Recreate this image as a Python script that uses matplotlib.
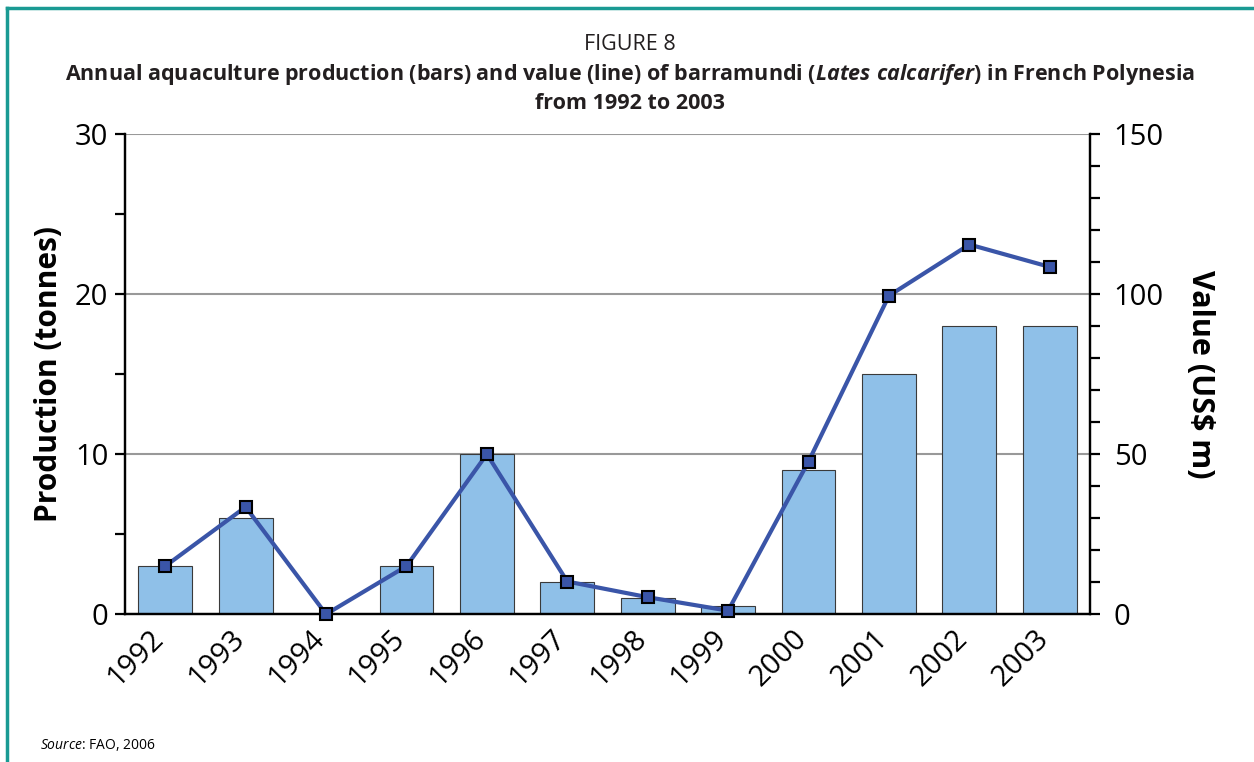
import numpy as np
import matplotlib
matplotlib.use('Agg')
import matplotlib.pyplot as plt
import matplotlib.transforms as mtransforms
from matplotlib.ticker import MultipleLocator

plt.rcParams['font.family'] = ['Open Sans', 'DejaVu Sans']
plt.rcParams['mathtext.fontset'] = 'custom'
plt.rcParams['mathtext.it'] = 'Open Sans:italic'
plt.rcParams['mathtext.bfit'] = 'Open Sans:italic:bold'

years = ['1992', '1993', '1994', '1995', '1996', '1997',
         '1998', '1999', '2000', '2001', '2002', '2003']
production = [3, 6, 0, 3, 10, 2, 1, 0.5, 9, 15, 18, 18]          # tonnes
value = [15, 33.5, 0, 15, 50, 10.2, 5.3, 1.1, 47.7, 99.5, 115.5, 108.5]  # US$ m

bar_col = '#8fc0e8'
line_col = '#3a55a8'
teal = '#1a9a93'
txt_col = '#231f20'

fig = plt.figure(figsize=(12.54, 7.62), dpi=100)
ax = fig.add_axes([0.0997, 0.194, 0.7695, 0.630])
ax2 = ax.twinx()

x = np.arange(len(years))
ax.bar(x, production, width=0.67, color=bar_col, edgecolor='#3a3a3a', linewidth=0.8, zorder=2)
ax2.plot(x, value, color=line_col, lw=3, marker='s', markersize=9,
         markerfacecolor=line_col, markeredgecolor='black', markeredgewidth=1.5,
         zorder=3, clip_on=False)

ax.set_xlim(-0.5, len(years) - 0.5)
ax.set_ylim(0, 30)
ax2.set_ylim(0, 150)

ax.yaxis.set_major_locator(MultipleLocator(10))
ax.yaxis.set_minor_locator(MultipleLocator(5))
ax2.yaxis.set_major_locator(MultipleLocator(50))
ax2.yaxis.set_minor_locator(MultipleLocator(10))

ax.grid(axis='y', which='major', color='#999999', lw=1.5, zorder=0)
ax.set_axisbelow(True)

for a in (ax, ax2):
    a.spines['top'].set_visible(False)
    for s in ('left', 'right', 'bottom'):
        a.spines[s].set_linewidth(1.6)
ax.tick_params(axis='y', which='both', direction='out', length=7, width=1.6, labelsize=21, pad=5)
ax2.tick_params(axis='y', which='both', direction='out', length=7, width=1.6, labelsize=21, pad=10)
ax.tick_params(axis='x', length=0, pad=7)

ax.set_xticks(x)
ax.set_xticklabels(years, rotation=45, ha='right', rotation_mode='anchor', fontsize=21)
shift = mtransforms.ScaledTranslation(-0.16, 0, fig.dpi_scale_trans)
for lab in ax.get_xticklabels():
    lab.set_transform(lab.get_transform() + shift)

ax.set_ylabel('Production (tonnes)', fontsize=21.5, fontweight='bold', labelpad=8)
ax2.set_ylabel('Value (US$ m)', fontsize=22, fontweight='bold', rotation=-90, labelpad=37)

fig.text(0.502, 0.941, 'FIGURE 8', ha='center', va='center', fontsize=15.5, color=txt_col)
fig.text(0.502, 0.902,
         r'Annual aquaculture production (bars) and value (line) of barramundi '
         r'($\mathbfit{Lates\ calcarifer}$) in French Polynesia',
         ha='center', va='center', fontsize=15.5, fontweight='bold', color=txt_col)
fig.text(0.502, 0.864, 'from 1992 to 2003', ha='center', va='center',
         fontsize=15.5, fontweight='bold', color=txt_col)
fig.text(0.032, 0.022, r'$\mathit{Source}$: FAO, 2006', ha='left', va='center', fontsize=10)

# teal frame (top and left edges)
fig.add_artist(plt.Line2D([0.0056, 1.0], [0.989, 0.989], color=teal, lw=2.5))
fig.add_artist(plt.Line2D([0.0056, 0.0056], [0.0, 0.989], color=teal, lw=2.5))

fig.savefig('out.png', dpi=100)
